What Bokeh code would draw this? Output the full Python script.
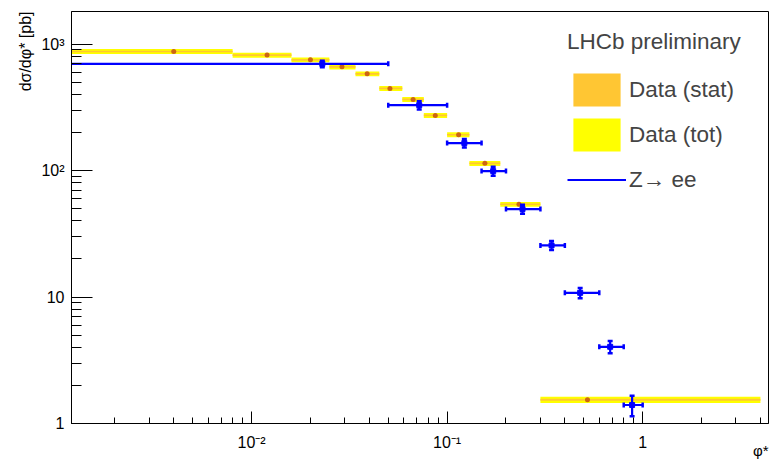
import numpy as np
from bokeh.plotting import figure
from bokeh.models import (Range1d, FixedTicker, Legend, LegendItem, Title,
                          ColumnDataSource)
from bokeh.embed import file_html
from bokeh.resources import INLINE

# ---------------- data ----------------
# LHCb data: bin edges, marker position, value, stat and total errors
data_lo = [0.0, 0.008, 0.016, 0.025, 0.034, 0.045, 0.059, 0.076, 0.100, 0.130, 0.187, 0.30]
data_hi = [0.008, 0.016, 0.025, 0.034, 0.045, 0.059, 0.076, 0.100, 0.130, 0.187, 0.30, 4.0]
data_x = [0.004, 0.012, 0.020, 0.029, 0.039, 0.051, 0.067, 0.087, 0.1145, 0.156, 0.233, 0.522]
data_y = [874, 818, 751, 661, 582, 446, 365, 273, 192, 114, 54.1, 1.54]
data_stat = [13, 12, 11, 10, 9, 7, 5.5, 4.1, 2.9, 1.7, 0.8, 0.03]
data_tot = [39, 37, 34, 30, 26, 20, 16.5, 12.3, 8.6, 5.1, 2.4, 0.085]

# Z -> ee: bin edges, marker position, value, error
z_lo = [0.0, 0.05, 0.10, 0.15, 0.20, 0.30, 0.40, 0.60, 0.80]
z_hi = [0.05, 0.10, 0.15, 0.20, 0.30, 0.40, 0.60, 0.80, 1.00]
z_x = [0.023, 0.072, 0.1225, 0.172, 0.243, 0.342, 0.479, 0.682, 0.883]
z_y = [698, 329, 165, 99, 49.6, 25.6, 10.8, 4.04, 1.40]
z_err = [42, 25, 13, 8, 4.0, 2.1, 1.0, 0.45, 0.26]

# axis ticks and labels
x_major = [0.01, 0.1, 1]
x_labels = {0.01: "10\u207b\u00b2", 0.1: "10\u207b\u00b9", 1: "1"}
y_major = [1, 10, 100, 1000]
y_labels = {1: "1", 10: "10", 100: "10\u00b2", 1000: "10\u00b3"}

XMIN, XMAX = 0.0012, 4.4
YMIN, YMAX = 1.0, 1810.0

FONT = "Liberation Sans"
YELLOW = "#FFFF00"
ORANGE = "#FFC633"
DOT = "#CC6611"
BLUE = "#0000FF"

# ---------------- figure ----------------
p = figure(width=772, height=461, x_axis_type="log", y_axis_type="log",
           x_range=Range1d(XMIN, XMAX), y_range=Range1d(YMIN, YMAX),
           output_backend="svg", toolbar_location=None,
           min_border_left=71, min_border_right=4,
           min_border_top=11, min_border_bottom=38)
p.background_fill_color = "white"
p.border_fill_color = "white"
p.outline_line_color = "black"
p.outline_line_width = 1
p.xgrid.visible = False
p.ygrid.visible = False

# minor ticks 2..9 per decade
def minors(lo_exp, hi_exp):
    out = []
    for e in range(lo_exp, hi_exp + 1):
        for m in range(2, 10):
            out.append(m * 10.0 ** e)
    return out

p.xaxis.ticker = FixedTicker(ticks=x_major, minor_ticks=minors(-3, 0))
p.yaxis.ticker = FixedTicker(ticks=y_major, minor_ticks=minors(0, 3))
p.xaxis.major_label_overrides = x_labels
p.yaxis.major_label_overrides = y_labels

for ax in (p.xaxis[0], p.yaxis[0]):
    ax.axis_line_color = "black"
    ax.axis_line_width = 1
    ax.major_tick_line_color = "black"
    ax.minor_tick_line_color = "black"
    ax.major_tick_line_width = 1
    ax.minor_tick_line_width = 1
    ax.major_tick_out = 0
    ax.minor_tick_out = 0
    ax.major_label_text_font = FONT
    ax.major_label_text_font_size = "16px"
    ax.major_label_text_color = "black"

p.yaxis.major_tick_in = 21
p.yaxis.minor_tick_in = 10
p.yaxis.major_label_standoff = 7
p.xaxis.major_tick_in = 12
p.xaxis.minor_tick_in = 6
p.xaxis.major_label_standoff = 10

# ---------------- data bands ----------------
lo_c = np.maximum(np.array(data_lo), XMIN * 0.5)
dy = np.array(data_y, dtype=float)
src_d = ColumnDataSource(dict(
    left=lo_c, right=np.array(data_hi),
    tb=dy - np.array(data_tot), tt=dy + np.array(data_tot),
    sb=dy - np.array(data_stat), st=dy + np.array(data_stat),
    x=np.array(data_x), y=dy))

r_tot = p.quad(left="left", right="right", bottom="tb", top="tt", source=src_d,
               fill_color=YELLOW, line_color=None)
r_stat = p.quad(left="left", right="right", bottom="sb", top="st", source=src_d,
                fill_color=ORANGE, line_color=None)
p.scatter("x", "y", source=src_d, marker="circle", size=5,
          fill_color=DOT, line_color=None)

# ---------------- Z -> ee ----------------
zy = np.array(z_y, dtype=float)
ze = np.array(z_err, dtype=float)
zlo = np.maximum(np.array(z_lo), XMIN * 0.5)
src_z = ColumnDataSource(dict(lo=zlo, hi=np.array(z_hi), x=np.array(z_x), y=zy,
                              ylo=zy - ze, yhi=zy + ze))
r_zh = p.segment(x0="lo", x1="hi", y0="y", y1="y", source=src_z,
                 line_color=BLUE, line_width=2.2)
p.segment(x0="x", x1="x", y0="ylo", y1="yhi", source=src_z,
          line_color=BLUE, line_width=2.2)
# caps
cap_lo = [(a, b) for a, b, raw in zip(zlo, zy, z_lo) if raw > 0]
src_caps_h = ColumnDataSource(dict(
    x=[c[0] for c in cap_lo] + list(z_hi),
    y=[c[1] for c in cap_lo] + list(zy)))
p.scatter("x", "y", source=src_caps_h, marker="dash", size=5, angle=np.pi / 2,
          line_color=BLUE, line_width=2.5)
src_caps_v = ColumnDataSource(dict(x=list(z_x) * 2, y=list(zy - ze) + list(zy + ze)))
p.scatter("x", "y", source=src_caps_v, marker="dash", size=5,
          line_color=BLUE, line_width=2.5)
p.scatter("x", "y", source=src_z, marker="square", size=5,
          fill_color=BLUE, line_color=BLUE)

# ---------------- legend ----------------
legend = Legend(items=[LegendItem(label="Data (stat)", renderers=[r_stat]),
                       LegendItem(label="Data (tot)", renderers=[r_tot]),
                       LegendItem(label="Z\u2192 ee", renderers=[r_zh])],
                location="top_right", margin=18, padding=0,
                glyph_width=59, glyph_height=41, spacing=4,
                label_standoff=3, label_width=121,
                label_text_font=FONT, label_text_font_size="22.5px",
                title="LHCb preliminary", title_text_font=FONT,
                title_text_font_size="22.5px", title_text_font_style="normal",
                title_standoff=14,
                border_line_color=None, background_fill_alpha=0.0)
p.add_layout(legend)

# ---------------- axis titles ----------------
ytitle = Title(text="d\u03c3/d\u03c6* [pb]", align="right",
               text_font=FONT, text_font_size="16px",
               text_font_style="normal", text_color="black", standoff=10)
p.add_layout(ytitle, "left")

try:
    xtitle = Title(text="\u03c6*", align="right", vertical_align="top",
                   text_font=FONT, text_font_size="15px",
                   text_font_style="normal", text_color="black", standoff=-24)
except ValueError:
    xtitle = Title(text="\u03c6*", align="right", text_font=FONT,
                   text_font_size="15px", text_font_style="normal",
                   text_color="black", standoff=0)
p.add_layout(xtitle, "below")

open("out.html", "w").write(file_html(p, INLINE))
